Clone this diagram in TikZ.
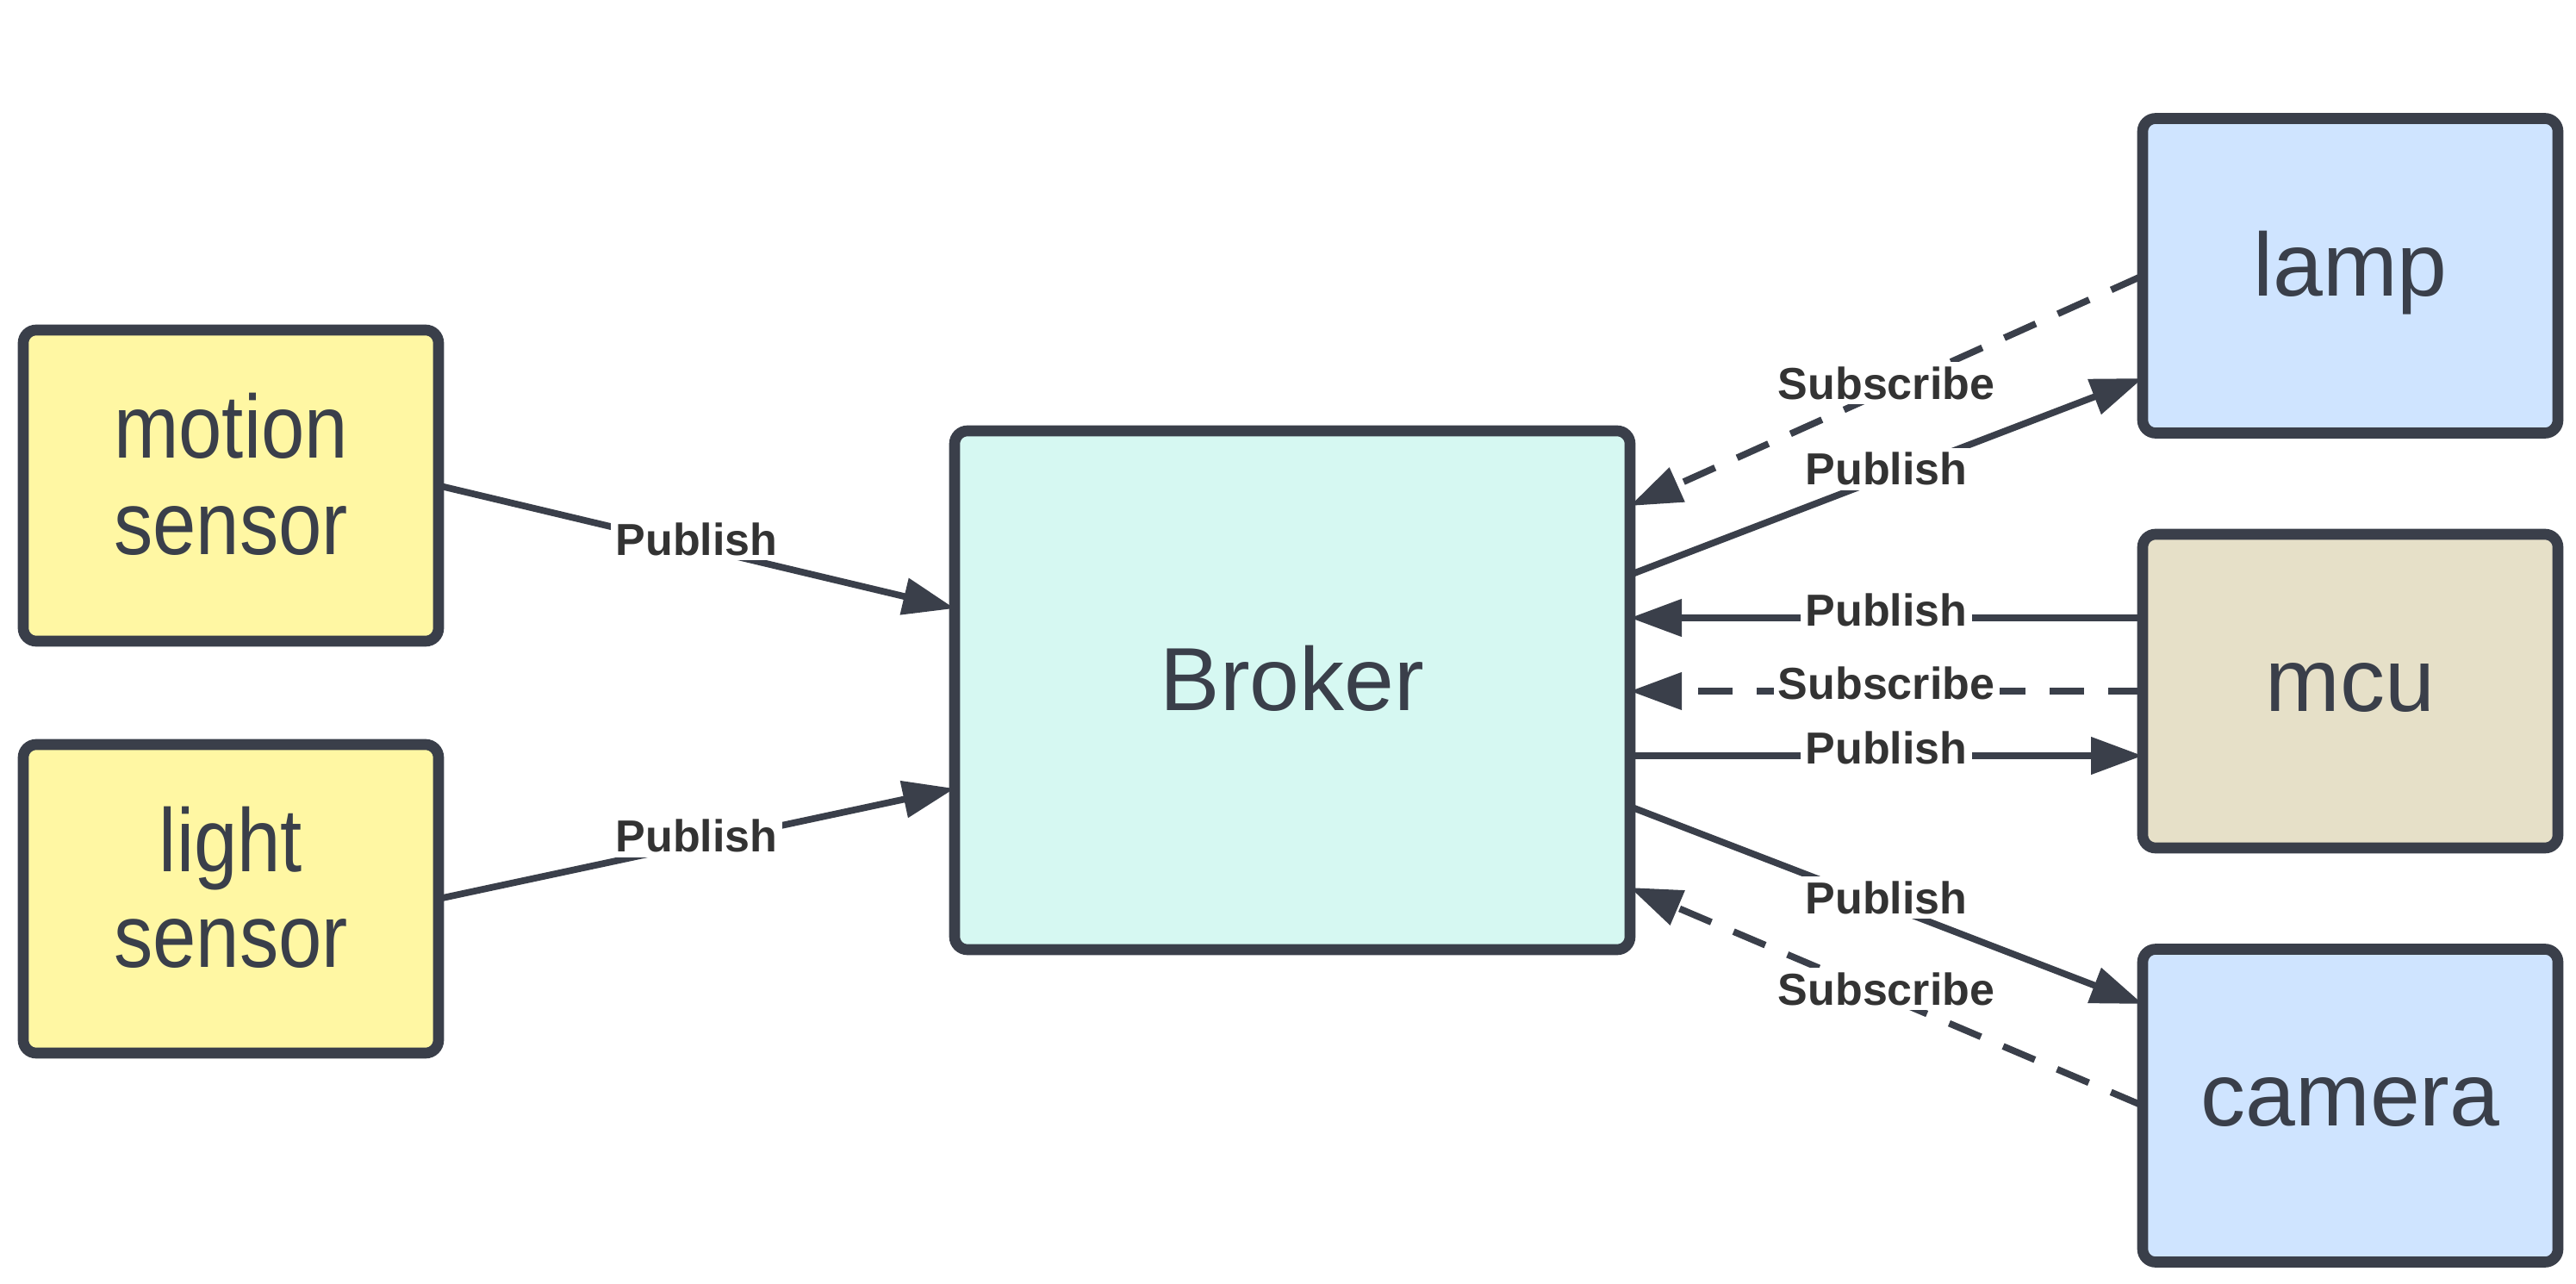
\documentclass[tikz,border=0pt]{standalone}
\usepackage{fontspec}
\setmainfont{Liberation Sans}
\usetikzlibrary{arrows.meta,calc}
\definecolor{ink}{HTML}{3A3F4A}
\definecolor{labink}{HTML}{333333}
\definecolor{sensorfill}{HTML}{FFF7A3}
\definecolor{brokerfill}{HTML}{D6F8F2}
\definecolor{devfill}{HTML}{CFE4FF}
\definecolor{mcufill}{HTML}{E6E0C8}
\newcommand{\narrowtext}[1]{\scalebox{0.87}[1]{#1}}
\tikzset{
  box/.style={draw=ink, line width=3.6pt, rounded corners=0.15cm, text=ink,
    font=\fontsize{29.6}{31.6}\selectfont, align=center, inner sep=0pt, outer sep=0pt,
    text height=0.77cm, text depth=0.30cm},
  sensorbox/.style={box, fill=sensorfill, text height=1.88cm, text depth=0.29cm},
  conn/.style={draw=ink, line width=2.2pt, -{Triangle[length=0.6cm,width=0.42cm]}},
  dashconn/.style={conn, dash pattern=on 0.4cm off 0.28cm},
  lab/.style={fill=white, text=labink, font=\fontsize{14.8}{16}\selectfont\bfseries,
    inner sep=1.5pt, pos=0.5, yshift=2.5pt}
}
\begin{document}
\begin{tikzpicture}
\useasboundingbox (0,0) rectangle (29.9,-14.9);
\node[sensorbox, minimum width=4.82cm, minimum height=3.61cm] (motion) at (2.68,-5.635) {\narrowtext{motion}\\\narrowtext{sensor}};
\node[sensorbox, minimum width=4.82cm, minimum height=3.58cm] (light) at (2.68,-10.43) {\narrowtext{light}\\\narrowtext{sensor}};
\node[box, fill=brokerfill, minimum width=7.84cm, minimum height=6.02cm] (broker) at (15.0,-8.01) {Broker};
\node[box, fill=devfill, minimum width=4.82cm, minimum height=3.65cm] (lamp) at (27.28,-3.2) {lamp};
\node[box, fill=mcufill, minimum width=4.82cm, minimum height=3.64cm] (mcu) at (27.28,-8.02) {mcu};
\node[box, fill=devfill, minimum width=4.82cm, minimum height=3.63cm] (camera) at (27.28,-12.83) {camera};

\draw[conn] (motion.east) -- ([yshift=0.95cm]broker.west) node[lab] {Publish};
\draw[conn] (light.east) -- ([yshift=-1.14cm]broker.west) node[lab] {Publish};

\draw[dashconn] (lamp.west) -- ([yshift=2.14cm]broker.east) node[lab] {Subscribe};
\draw[conn] ([yshift=1.34cm]broker.east) -- ([yshift=-1.19cm]lamp.west) node[lab] {Publish};

\draw[conn] ([yshift=0.85cm]mcu.west) -- ([yshift=0.85cm]mcu.west -| broker.east) node[lab] {Publish};
\draw[dashconn] (mcu.west) -- (mcu.west -| broker.east) node[lab] {Subscribe};
\draw[conn] ([yshift=-0.75cm]mcu.west -| broker.east) -- ([yshift=-0.75cm]mcu.west) node[lab] {Publish};

\draw[conn] ([yshift=-1.35cm]broker.east) -- ([yshift=1.18cm]camera.west) node[lab] {Publish};
\draw[dashconn] (camera.west) -- ([yshift=-2.29cm]broker.east) node[lab] {Subscribe};
\end{tikzpicture}
\end{document}
